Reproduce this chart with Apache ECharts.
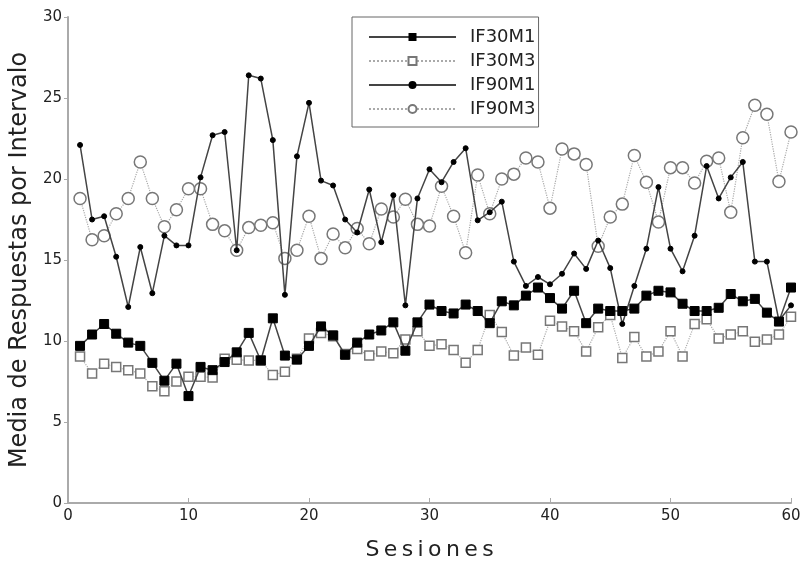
<!DOCTYPE html>
<html>
<head>
<meta charset="utf-8">
<script src="https://cdn.jsdelivr.net/npm/echarts@6/dist/echarts.min.js"></script>
<style>
  html, body { margin: 0; padding: 0; background: #fff; }
  #chart { width: 804px; height: 566px; }
</style>
</head>
<body>
<div id="chart"></div>
<script>
// sesiones 1..60
const sesiones = [1,2,3,4,5,6,7,8,9,10,11,12,13,14,15,16,17,18,19,20,
  21,22,23,24,25,26,27,28,29,30,31,32,33,34,35,36,37,38,39,40,
  41,42,43,44,45,46,47,48,49,50,51,52,53,54,55,56,57,58,59,60]

const if30m1 = [9.7,10.4,11.05,10.45,9.9,9.7,8.65,7.55,8.6,6.6,8.4,8.2,8.7,9.3,10.5,8.8,11.4,9.1,8.85,9.7,
  10.9,10.35,9.15,9.9,10.4,10.65,11.15,9.4,11.15,12.25,11.85,11.7,12.25,11.85,11.1,12.45,12.2,12.8,13.3,12.65,
  12.0,13.1,11.1,12.0,11.85,11.85,12.0,12.8,13.1,13.0,12.3,11.85,11.85,12.05,12.9,12.45,12.6,11.75,11.2,13.3]

const if30m3 = [9.05,8.0,8.6,8.4,8.2,8.0,7.2,6.9,7.5,7.8,7.8,7.75,8.9,8.85,8.8,8.8,7.9,8.1,8.9,10.15,
  10.5,10.3,9.2,9.5,9.1,9.35,9.25,10.1,10.6,9.7,9.8,9.45,8.65,9.45,11.6,10.55,9.1,9.6,9.15,11.25,
  10.9,10.6,9.35,10.85,11.6,8.95,10.25,9.05,9.35,10.6,9.05,11.05,11.35,10.15,10.4,10.6,9.95,10.1,10.4,11.5]

const if90m1 = [22.1,17.5,17.7,15.2,12.1,15.8,12.95,16.5,15.9,15.9,20.1,22.7,22.9,15.6,26.4,26.2,22.4,12.85,21.4,24.7,
  19.9,19.6,17.5,16.7,19.35,16.1,19.0,12.2,18.8,20.6,19.8,21.05,21.9,17.45,17.95,18.6,14.9,13.4,13.95,13.5,
  14.15,15.4,14.45,16.2,14.5,11.05,13.4,15.7,19.5,15.7,14.3,16.5,20.8,18.8,20.1,21.05,14.9,14.9,11.25,12.2]

const if90m3 = [18.8,16.25,16.5,17.85,18.8,21.05,18.8,17.05,18.1,19.4,19.4,17.2,16.8,15.6,17.0,17.15,17.3,15.1,15.6,17.7,
  15.1,16.6,15.75,16.95,16.0,18.15,17.65,18.75,17.2,17.1,19.55,17.7,15.45,20.25,17.85,20.0,20.3,21.3,21.05,18.2,
  21.85,21.55,20.9,15.85,17.65,18.45,21.45,19.8,17.35,20.7,20.7,19.75,21.1,21.3,17.95,22.55,24.55,24.0,19.85,22.9]

const pares = (vals) => sesiones.map((s, i) => [s, vals[i]])

const chart = echarts.init(document.getElementById('chart'))

const font = 'DejaVu Sans'

const option = {
  animation: false,
  backgroundColor: '#fff',
  grid: { left: 66, right: 13, top: 17, bottom: 53 },
  legend: {
    orient: 'vertical',
    left: 352,
    top: 17,
    backgroundColor: '#fff',
    borderColor: '#666',
    borderWidth: 1,
    padding: [11, 3, 9, 16],
    itemWidth: 87,
    itemHeight: 10,
    itemGap: 6,
    textStyle: { fontFamily: font, fontSize: 18, color: '#222', padding: [0, 0, 0, 9] },
    data: ['IF30M1', 'IF30M3', 'IF90M1', 'IF90M3']
  },
  xAxis: {
    type: 'value',
    min: 0,
    max: 60,
    interval: 10,
    name: 'S\u2009e\u2009s\u2009i\u2009o\u2009n\u2009e\u2009s',
    nameLocation: 'middle',
    nameGap: 36,
    nameTextStyle: { fontFamily: font, fontSize: 22, color: '#222' },
    axisLine: { lineStyle: { color: '#aaa', width: 2 } },
    axisTick: { inside: true, length: 5, lineStyle: { color: '#aaa' } },
    axisLabel: { fontFamily: font, fontSize: 15, color: '#222', margin: 6 },
    splitLine: { show: false }
  },
  yAxis: {
    type: 'value',
    min: 0,
    max: 30,
    interval: 5,
    name: 'Media de Respuestas por Intervalo',
    nameLocation: 'middle',
    nameGap: 32,
    nameTextStyle: { fontFamily: font, fontSize: 24, color: '#222' },
    axisLine: { show: true, lineStyle: { color: '#aaa', width: 2 } },
    axisTick: { show: true, length: 4, lineStyle: { color: '#aaa' } },
    axisLabel: { fontFamily: font, fontSize: 15, color: '#222', margin: 6 },
    splitLine: { show: false }
  },
  series: [
    {
      name: 'IF30M1',
      type: 'line',
      data: pares(if30m1),
      z: 4,
      symbol: 'rect',
      symbolSize: 9,
      lineStyle: { color: '#444', width: 1.5 },
      itemStyle: { color: '#000', borderColor: '#000' }
    },
    {
      name: 'IF30M3',
      type: 'line',
      data: pares(if30m3),
      z: 3,
      symbol: 'rect',
      symbolSize: 9,
      lineStyle: { color: '#aaa', width: 1.2, type: 'dotted' },
      itemStyle: { color: '#fff', borderColor: '#777', borderWidth: 1.5 }
    },
    {
      name: 'IF90M1',
      type: 'line',
      data: pares(if90m1),
      z: 4,
      symbol: 'circle',
      symbolSize: 5,
      lineStyle: { color: '#444', width: 1.5 },
      itemStyle: { color: '#000', borderColor: '#000' }
    },
    {
      name: 'IF90M3',
      type: 'line',
      data: pares(if90m3),
      z: 3,
      symbol: 'circle',
      symbolSize: 12,
      lineStyle: { color: '#aaa', width: 1.2, type: 'dotted' },
      itemStyle: { color: '#fff', borderColor: '#777', borderWidth: 1.5 }
    }
  ]
}

chart.setOption(option)
</script>
</body>
</html>
